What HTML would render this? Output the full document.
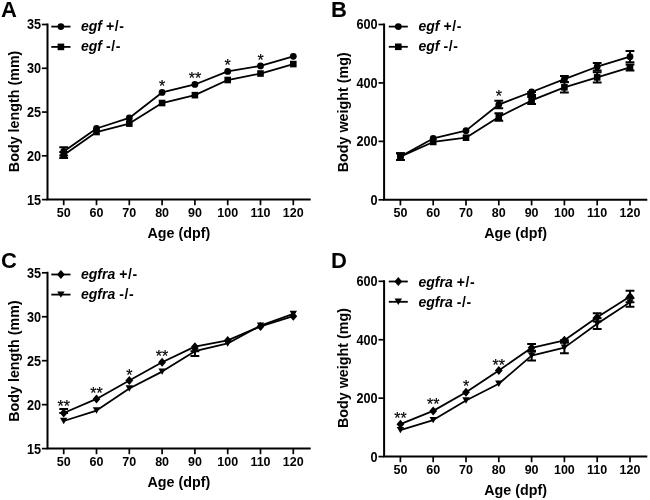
<!DOCTYPE html>
<html><head><meta charset="utf-8"><style>
html,body{margin:0;padding:0;background:#fff;width:650px;height:500px;overflow:hidden}
svg{display:block;will-change:transform}
text{font-family:"Liberation Sans", sans-serif;fill:#000}
</style></head><body>
<svg width="650" height="500" viewBox="0 0 650 500">
<rect width="650" height="500" fill="#fff"/>
<text x="1" y="16.8" font-size="22" font-weight="bold">A</text>
<path d="M47.5 23.5V199.6H310.7" fill="none" stroke="#000" stroke-width="2"/>
<path d="M41.9 199.6H47.5" stroke="#000" stroke-width="1.7"/>
<text transform="translate(41 204.5) scale(0.92 1)" font-size="13.8" font-weight="bold" text-anchor="end">15</text>
<path d="M41.9 155.82H47.5" stroke="#000" stroke-width="1.7"/>
<text transform="translate(41 160.72) scale(0.92 1)" font-size="13.8" font-weight="bold" text-anchor="end">20</text>
<path d="M41.9 112.05H47.5" stroke="#000" stroke-width="1.7"/>
<text transform="translate(41 116.95) scale(0.92 1)" font-size="13.8" font-weight="bold" text-anchor="end">25</text>
<path d="M41.9 68.28H47.5" stroke="#000" stroke-width="1.7"/>
<text transform="translate(41 73.18) scale(0.92 1)" font-size="13.8" font-weight="bold" text-anchor="end">30</text>
<path d="M41.9 24.5H47.5" stroke="#000" stroke-width="1.7"/>
<text transform="translate(41 29.4) scale(0.92 1)" font-size="13.8" font-weight="bold" text-anchor="end">35</text>
<path d="M63.7 199.6V205.2" stroke="#000" stroke-width="1.7"/>
<text x="63.7" y="216.95" font-size="12.5" font-weight="bold" text-anchor="middle">50</text>
<path d="M96.5 199.6V205.2" stroke="#000" stroke-width="1.7"/>
<text x="96.5" y="216.95" font-size="12.5" font-weight="bold" text-anchor="middle">60</text>
<path d="M129.3 199.6V205.2" stroke="#000" stroke-width="1.7"/>
<text x="129.3" y="216.95" font-size="12.5" font-weight="bold" text-anchor="middle">70</text>
<path d="M162.1 199.6V205.2" stroke="#000" stroke-width="1.7"/>
<text x="162.1" y="216.95" font-size="12.5" font-weight="bold" text-anchor="middle">80</text>
<path d="M194.9 199.6V205.2" stroke="#000" stroke-width="1.7"/>
<text x="194.9" y="216.95" font-size="12.5" font-weight="bold" text-anchor="middle">90</text>
<path d="M227.7 199.6V205.2" stroke="#000" stroke-width="1.7"/>
<text x="227.7" y="216.95" font-size="12.5" font-weight="bold" text-anchor="middle">100</text>
<path d="M260.5 199.6V205.2" stroke="#000" stroke-width="1.7"/>
<text x="260.5" y="216.95" font-size="12.5" font-weight="bold" text-anchor="middle">110</text>
<path d="M293.3 199.6V205.2" stroke="#000" stroke-width="1.7"/>
<text x="293.3" y="216.95" font-size="12.5" font-weight="bold" text-anchor="middle">120</text>
<text x="178.8" y="238" font-size="14.3" font-weight="bold" text-anchor="middle">Age (dpf)</text>
<text transform="translate(18.7 111.4) rotate(-90)" font-size="14.3" font-weight="bold" text-anchor="middle">Body length (mm)</text>
<polyline points="63.7,151.45 96.5,128.51 129.3,117.92 162.1,92.44 194.9,84.47 227.7,71.43 260.5,65.91 293.3,56.37" fill="none" stroke="#000" stroke-width="1.8" stroke-linejoin="round"/>
<path d="M63.7 147.33V155.56M59.3 147.33H68.1M59.3 155.56H68.1" stroke="#000" stroke-width="2" fill="none"/>
<circle cx="63.7" cy="151.45" r="3.4"/>
<circle cx="96.5" cy="128.51" r="3.4"/>
<circle cx="129.3" cy="117.92" r="3.4"/>
<circle cx="162.1" cy="92.44" r="3.4"/>
<circle cx="194.9" cy="84.47" r="3.4"/>
<circle cx="227.7" cy="71.43" r="3.4"/>
<circle cx="260.5" cy="65.91" r="3.4"/>
<circle cx="293.3" cy="56.37" r="3.4"/>
<polyline points="63.7,154.95 96.5,132.01 129.3,123.61 162.1,103.03 194.9,95.15 227.7,80.01 260.5,73.53 293.3,64.07" fill="none" stroke="#000" stroke-width="1.8" stroke-linejoin="round"/>
<path d="M63.7 151.89V158.01M59.3 151.89H68.1M59.3 158.01H68.1" stroke="#000" stroke-width="2" fill="none"/>
<rect x="60.4" y="151.65" width="6.6" height="6.6"/>
<rect x="93.2" y="128.71" width="6.6" height="6.6"/>
<rect x="126" y="120.31" width="6.6" height="6.6"/>
<rect x="158.8" y="99.73" width="6.6" height="6.6"/>
<rect x="191.6" y="91.85" width="6.6" height="6.6"/>
<rect x="224.4" y="76.71" width="6.6" height="6.6"/>
<rect x="257.2" y="70.23" width="6.6" height="6.6"/>
<rect x="290" y="60.77" width="6.6" height="6.6"/>
<text x="162.1" y="91.93" font-size="16" text-anchor="middle" stroke="#000" stroke-width="0.2">*</text>
<text x="194.9" y="84.13" font-size="16" text-anchor="middle" stroke="#000" stroke-width="0.2">**</text>
<text x="227.7" y="70.53" font-size="16" text-anchor="middle" stroke="#000" stroke-width="0.2">*</text>
<text x="260.5" y="66.43" font-size="16" text-anchor="middle" stroke="#000" stroke-width="0.2">*</text>
<path d="M51.3 26.6H70.5" stroke="#000" stroke-width="1.8"/>
<circle cx="60.9" cy="26.6" r="3.4"/>
<text x="81" y="31.1" font-size="14" font-weight="bold"><tspan font-style="italic">egf</tspan> <tspan letter-spacing="0.6">+/-</tspan></text>
<path d="M51.3 46.9H70.5" stroke="#000" stroke-width="1.8"/>
<rect x="57.6" y="43.6" width="6.6" height="6.6"/>
<text x="81" y="51.4" font-size="14" font-weight="bold"><tspan font-style="italic">egf</tspan> <tspan letter-spacing="0.6">-/-</tspan></text>
<text x="331" y="16.8" font-size="22" font-weight="bold">B</text>
<path d="M384.1 23.5V199.8H647.3" fill="none" stroke="#000" stroke-width="2"/>
<path d="M378.5 199.8H384.1" stroke="#000" stroke-width="1.7"/>
<text transform="translate(377.6 204.7) scale(0.92 1)" font-size="13.8" font-weight="bold" text-anchor="end">0</text>
<path d="M378.5 141.37H384.1" stroke="#000" stroke-width="1.7"/>
<text transform="translate(377.6 146.27) scale(0.92 1)" font-size="13.8" font-weight="bold" text-anchor="end">200</text>
<path d="M378.5 82.93H384.1" stroke="#000" stroke-width="1.7"/>
<text transform="translate(377.6 87.83) scale(0.92 1)" font-size="13.8" font-weight="bold" text-anchor="end">400</text>
<path d="M378.5 24.5H384.1" stroke="#000" stroke-width="1.7"/>
<text transform="translate(377.6 29.4) scale(0.92 1)" font-size="13.8" font-weight="bold" text-anchor="end">600</text>
<path d="M400.4 199.8V205.4" stroke="#000" stroke-width="1.7"/>
<text x="400.4" y="217.15" font-size="12.5" font-weight="bold" text-anchor="middle">50</text>
<path d="M433.2 199.8V205.4" stroke="#000" stroke-width="1.7"/>
<text x="433.2" y="217.15" font-size="12.5" font-weight="bold" text-anchor="middle">60</text>
<path d="M466 199.8V205.4" stroke="#000" stroke-width="1.7"/>
<text x="466" y="217.15" font-size="12.5" font-weight="bold" text-anchor="middle">70</text>
<path d="M498.8 199.8V205.4" stroke="#000" stroke-width="1.7"/>
<text x="498.8" y="217.15" font-size="12.5" font-weight="bold" text-anchor="middle">80</text>
<path d="M531.6 199.8V205.4" stroke="#000" stroke-width="1.7"/>
<text x="531.6" y="217.15" font-size="12.5" font-weight="bold" text-anchor="middle">90</text>
<path d="M564.4 199.8V205.4" stroke="#000" stroke-width="1.7"/>
<text x="564.4" y="217.15" font-size="12.5" font-weight="bold" text-anchor="middle">100</text>
<path d="M597.2 199.8V205.4" stroke="#000" stroke-width="1.7"/>
<text x="597.2" y="217.15" font-size="12.5" font-weight="bold" text-anchor="middle">110</text>
<path d="M630 199.8V205.4" stroke="#000" stroke-width="1.7"/>
<text x="630" y="217.15" font-size="12.5" font-weight="bold" text-anchor="middle">120</text>
<text x="515.6" y="238" font-size="14.3" font-weight="bold" text-anchor="middle">Age (dpf)</text>
<text transform="translate(348 112.3) rotate(-90)" font-size="14.3" font-weight="bold" text-anchor="middle">Body weight (mg)</text>
<polyline points="400.4,156.56 433.2,138.44 466,130.67 498.8,104.55 531.6,91.99 564.4,79.14 597.2,66.72 630,56.64" fill="none" stroke="#000" stroke-width="1.8" stroke-linejoin="round"/>
<path d="M400.4 153.2V159.92M396 153.2H404.8M396 159.92H404.8" stroke="#000" stroke-width="2" fill="none"/>
<path d="M498.8 100.76V108.35M494.4 100.76H503.2M494.4 108.35H503.2" stroke="#000" stroke-width="2" fill="none"/>
<path d="M531.6 91.99V94.91M527.2 91.99H536M527.2 94.91H536" stroke="#000" stroke-width="2" fill="none"/>
<path d="M564.4 75.92V82.35M560 75.92H568.8M560 82.35H568.8" stroke="#000" stroke-width="2" fill="none"/>
<path d="M597.2 62.92V70.52M592.8 62.92H601.6M592.8 70.52H601.6" stroke="#000" stroke-width="2" fill="none"/>
<path d="M630 50.94V62.34M625.6 50.94H634.4M625.6 62.34H634.4" stroke="#000" stroke-width="2" fill="none"/>
<circle cx="400.4" cy="156.56" r="3.4"/>
<circle cx="433.2" cy="138.44" r="3.4"/>
<circle cx="466" cy="130.67" r="3.4"/>
<circle cx="498.8" cy="104.55" r="3.4"/>
<circle cx="531.6" cy="91.99" r="3.4"/>
<circle cx="564.4" cy="79.14" r="3.4"/>
<circle cx="597.2" cy="66.72" r="3.4"/>
<circle cx="630" cy="56.64" r="3.4"/>
<polyline points="400.4,156.56 433.2,141.95 466,137.69 498.8,116.97 531.6,100.46 564.4,87.32 597.2,77.38 630,67.45" fill="none" stroke="#000" stroke-width="1.8" stroke-linejoin="round"/>
<path d="M400.4 153.2V159.92M396 153.2H404.8M396 159.92H404.8" stroke="#000" stroke-width="2" fill="none"/>
<path d="M498.8 113.17V120.77M494.4 113.17H503.2M494.4 120.77H503.2" stroke="#000" stroke-width="2" fill="none"/>
<path d="M531.6 96.96V103.97M527.2 96.96H536M527.2 103.97H536" stroke="#000" stroke-width="2" fill="none"/>
<path d="M564.4 82.06V92.57M560 82.06H568.8M560 92.57H568.8" stroke="#000" stroke-width="2" fill="none"/>
<path d="M597.2 72.27V82.5M592.8 72.27H601.6M592.8 82.5H601.6" stroke="#000" stroke-width="2" fill="none"/>
<path d="M630 64.38V70.52M625.6 64.38H634.4M625.6 70.52H634.4" stroke="#000" stroke-width="2" fill="none"/>
<rect x="397.1" y="153.26" width="6.6" height="6.6"/>
<rect x="429.9" y="138.65" width="6.6" height="6.6"/>
<rect x="462.7" y="134.39" width="6.6" height="6.6"/>
<rect x="495.5" y="113.67" width="6.6" height="6.6"/>
<rect x="528.3" y="97.16" width="6.6" height="6.6"/>
<rect x="561.1" y="84.02" width="6.6" height="6.6"/>
<rect x="593.9" y="74.08" width="6.6" height="6.6"/>
<rect x="626.7" y="64.15" width="6.6" height="6.6"/>
<text x="498.8" y="102.13" font-size="16" text-anchor="middle" stroke="#000" stroke-width="0.2">*</text>
<path d="M388.8 26.6H407.8" stroke="#000" stroke-width="1.8"/>
<circle cx="398.3" cy="26.6" r="3.4"/>
<text x="418.5" y="31.1" font-size="14" font-weight="bold"><tspan font-style="italic">egf</tspan> <tspan letter-spacing="0.6">+/-</tspan></text>
<path d="M388.8 46.8H407.8" stroke="#000" stroke-width="1.8"/>
<rect x="395" y="43.5" width="6.6" height="6.6"/>
<text x="418.5" y="51.3" font-size="14" font-weight="bold"><tspan font-style="italic">egf</tspan> <tspan letter-spacing="0.6">-/-</tspan></text>
<text x="1" y="267.5" font-size="22" font-weight="bold">C</text>
<path d="M47.5 271.8V448.6H310.7" fill="none" stroke="#000" stroke-width="2"/>
<path d="M41.9 448.6H47.5" stroke="#000" stroke-width="1.7"/>
<text transform="translate(41 453.5) scale(0.92 1)" font-size="13.8" font-weight="bold" text-anchor="end">15</text>
<path d="M41.9 404.65H47.5" stroke="#000" stroke-width="1.7"/>
<text transform="translate(41 409.55) scale(0.92 1)" font-size="13.8" font-weight="bold" text-anchor="end">20</text>
<path d="M41.9 360.7H47.5" stroke="#000" stroke-width="1.7"/>
<text transform="translate(41 365.6) scale(0.92 1)" font-size="13.8" font-weight="bold" text-anchor="end">25</text>
<path d="M41.9 316.75H47.5" stroke="#000" stroke-width="1.7"/>
<text transform="translate(41 321.65) scale(0.92 1)" font-size="13.8" font-weight="bold" text-anchor="end">30</text>
<path d="M41.9 272.8H47.5" stroke="#000" stroke-width="1.7"/>
<text transform="translate(41 277.7) scale(0.92 1)" font-size="13.8" font-weight="bold" text-anchor="end">35</text>
<path d="M63.7 448.6V454.2" stroke="#000" stroke-width="1.7"/>
<text x="63.7" y="465.95" font-size="12.5" font-weight="bold" text-anchor="middle">50</text>
<path d="M96.5 448.6V454.2" stroke="#000" stroke-width="1.7"/>
<text x="96.5" y="465.95" font-size="12.5" font-weight="bold" text-anchor="middle">60</text>
<path d="M129.3 448.6V454.2" stroke="#000" stroke-width="1.7"/>
<text x="129.3" y="465.95" font-size="12.5" font-weight="bold" text-anchor="middle">70</text>
<path d="M162.1 448.6V454.2" stroke="#000" stroke-width="1.7"/>
<text x="162.1" y="465.95" font-size="12.5" font-weight="bold" text-anchor="middle">80</text>
<path d="M194.9 448.6V454.2" stroke="#000" stroke-width="1.7"/>
<text x="194.9" y="465.95" font-size="12.5" font-weight="bold" text-anchor="middle">90</text>
<path d="M227.7 448.6V454.2" stroke="#000" stroke-width="1.7"/>
<text x="227.7" y="465.95" font-size="12.5" font-weight="bold" text-anchor="middle">100</text>
<path d="M260.5 448.6V454.2" stroke="#000" stroke-width="1.7"/>
<text x="260.5" y="465.95" font-size="12.5" font-weight="bold" text-anchor="middle">110</text>
<path d="M293.3 448.6V454.2" stroke="#000" stroke-width="1.7"/>
<text x="293.3" y="465.95" font-size="12.5" font-weight="bold" text-anchor="middle">120</text>
<text x="178.8" y="487" font-size="14.3" font-weight="bold" text-anchor="middle">Age (dpf)</text>
<text transform="translate(18.7 361) rotate(-90)" font-size="14.3" font-weight="bold" text-anchor="middle">Body length (mm)</text>
<polyline points="63.7,413 96.5,398.94 129.3,380.57 162.1,362.19 194.9,346.64 227.7,340.4 260.5,326.42 293.3,316.22" fill="none" stroke="#000" stroke-width="1.8" stroke-linejoin="round"/>
<path d="M63.7 409.04V413M59.3 409.04H68.1M59.3 413H68.1" stroke="#000" stroke-width="2" fill="none"/>
<path d="M63.7 408.5L67.6 413L63.7 417.5L59.8 413Z"/>
<path d="M96.5 394.44L100.4 398.94L96.5 403.44L92.6 398.94Z"/>
<path d="M129.3 376.07L133.2 380.57L129.3 385.07L125.4 380.57Z"/>
<path d="M162.1 357.69L166 362.19L162.1 366.69L158.2 362.19Z"/>
<path d="M194.9 342.14L198.8 346.64L194.9 351.14L191 346.64Z"/>
<path d="M227.7 335.9L231.6 340.4L227.7 344.9L223.8 340.4Z"/>
<path d="M260.5 321.92L264.4 326.42L260.5 330.92L256.6 326.42Z"/>
<path d="M293.3 311.72L297.2 316.22L293.3 320.72L289.4 316.22Z"/>
<polyline points="63.7,421 96.5,410.54 129.3,388.48 162.1,371.6 194.9,351.21 227.7,343.47 260.5,325.63 293.3,313.85" fill="none" stroke="#000" stroke-width="1.8" stroke-linejoin="round"/>
<path d="M194.9 351.21V356.04M190.5 351.21H199.3M190.5 356.04H199.3" stroke="#000" stroke-width="2" fill="none"/>
<path d="M60 417.8L67.4 417.8L63.7 424.2Z"/>
<path d="M92.8 407.34L100.2 407.34L96.5 413.74Z"/>
<path d="M125.6 385.28L133 385.28L129.3 391.68Z"/>
<path d="M158.4 368.4L165.8 368.4L162.1 374.8Z"/>
<path d="M191.2 348.01L198.6 348.01L194.9 354.41Z"/>
<path d="M224 340.27L231.4 340.27L227.7 346.67Z"/>
<path d="M256.8 322.43L264.2 322.43L260.5 328.83Z"/>
<path d="M289.6 310.65L297 310.65L293.3 317.05Z"/>
<text x="63.7" y="411.93" font-size="16" text-anchor="middle" stroke="#000" stroke-width="0.2">**</text>
<text x="96.5" y="398.93" font-size="16" text-anchor="middle" stroke="#000" stroke-width="0.2">**</text>
<text x="129.3" y="380.93" font-size="16" text-anchor="middle" stroke="#000" stroke-width="0.2">*</text>
<text x="162.1" y="362.33" font-size="16" text-anchor="middle" stroke="#000" stroke-width="0.2">**</text>
<path d="M51.3 274.5H70.5" stroke="#000" stroke-width="1.8"/>
<path d="M60.9 270L64.8 274.5L60.9 279L57 274.5Z"/>
<text x="81" y="278.9" font-size="14" font-weight="bold"><tspan font-style="italic">egfra</tspan> <tspan letter-spacing="0.6">+/-</tspan></text>
<path d="M51.3 294.6H70.5" stroke="#000" stroke-width="1.8"/>
<path d="M57.2 291.4L64.6 291.4L60.9 297.8Z"/>
<text x="81" y="299" font-size="14" font-weight="bold"><tspan font-style="italic">egfra</tspan> <tspan letter-spacing="0.6">-/-</tspan></text>
<text x="331" y="267.5" font-size="22" font-weight="bold">D</text>
<path d="M384.1 280.3V456.6H647.3" fill="none" stroke="#000" stroke-width="2"/>
<path d="M378.5 456.6H384.1" stroke="#000" stroke-width="1.7"/>
<text transform="translate(377.6 461.5) scale(0.92 1)" font-size="13.8" font-weight="bold" text-anchor="end">0</text>
<path d="M378.5 398.17H384.1" stroke="#000" stroke-width="1.7"/>
<text transform="translate(377.6 403.07) scale(0.92 1)" font-size="13.8" font-weight="bold" text-anchor="end">200</text>
<path d="M378.5 339.73H384.1" stroke="#000" stroke-width="1.7"/>
<text transform="translate(377.6 344.63) scale(0.92 1)" font-size="13.8" font-weight="bold" text-anchor="end">400</text>
<path d="M378.5 281.3H384.1" stroke="#000" stroke-width="1.7"/>
<text transform="translate(377.6 286.2) scale(0.92 1)" font-size="13.8" font-weight="bold" text-anchor="end">600</text>
<path d="M400.4 456.6V462.2" stroke="#000" stroke-width="1.7"/>
<text x="400.4" y="473.95" font-size="12.5" font-weight="bold" text-anchor="middle">50</text>
<path d="M433.2 456.6V462.2" stroke="#000" stroke-width="1.7"/>
<text x="433.2" y="473.95" font-size="12.5" font-weight="bold" text-anchor="middle">60</text>
<path d="M466 456.6V462.2" stroke="#000" stroke-width="1.7"/>
<text x="466" y="473.95" font-size="12.5" font-weight="bold" text-anchor="middle">70</text>
<path d="M498.8 456.6V462.2" stroke="#000" stroke-width="1.7"/>
<text x="498.8" y="473.95" font-size="12.5" font-weight="bold" text-anchor="middle">80</text>
<path d="M531.6 456.6V462.2" stroke="#000" stroke-width="1.7"/>
<text x="531.6" y="473.95" font-size="12.5" font-weight="bold" text-anchor="middle">90</text>
<path d="M564.4 456.6V462.2" stroke="#000" stroke-width="1.7"/>
<text x="564.4" y="473.95" font-size="12.5" font-weight="bold" text-anchor="middle">100</text>
<path d="M597.2 456.6V462.2" stroke="#000" stroke-width="1.7"/>
<text x="597.2" y="473.95" font-size="12.5" font-weight="bold" text-anchor="middle">110</text>
<path d="M630 456.6V462.2" stroke="#000" stroke-width="1.7"/>
<text x="630" y="473.95" font-size="12.5" font-weight="bold" text-anchor="middle">120</text>
<text x="515.6" y="494.5" font-size="14.3" font-weight="bold" text-anchor="middle">Age (dpf)</text>
<text transform="translate(348 368) rotate(-90)" font-size="14.3" font-weight="bold" text-anchor="middle">Body weight (mg)</text>
<polyline points="400.4,424.17 433.2,410.88 466,392.18 498.8,370.56 531.6,347.77 564.4,340.32 597.2,317.32 630,296.49" fill="none" stroke="#000" stroke-width="1.8" stroke-linejoin="round"/>
<path d="M531.6 344.06V351.48M527.2 344.06H536M527.2 351.48H536" stroke="#000" stroke-width="2" fill="none"/>
<path d="M564.4 340.32V342.66M560 340.32H568.8M560 342.66H568.8" stroke="#000" stroke-width="2" fill="none"/>
<path d="M597.2 313.23V321.41M592.8 313.23H601.6M592.8 321.41H601.6" stroke="#000" stroke-width="2" fill="none"/>
<path d="M630 290.65V302.34M625.6 290.65H634.4M625.6 302.34H634.4" stroke="#000" stroke-width="2" fill="none"/>
<path d="M400.4 419.67L404.3 424.17L400.4 428.67L396.5 424.17Z"/>
<path d="M433.2 406.38L437.1 410.88L433.2 415.38L429.3 410.88Z"/>
<path d="M466 387.68L469.9 392.18L466 396.68L462.1 392.18Z"/>
<path d="M498.8 366.06L502.7 370.56L498.8 375.06L494.9 370.56Z"/>
<path d="M531.6 343.27L535.5 347.77L531.6 352.27L527.7 347.77Z"/>
<path d="M564.4 335.82L568.3 340.32L564.4 344.82L560.5 340.32Z"/>
<path d="M597.2 312.82L601.1 317.32L597.2 321.82L593.3 317.32Z"/>
<path d="M630 291.99L633.9 296.49L630 300.99L626.1 296.49Z"/>
<polyline points="400.4,430.16 433.2,420.08 466,400.5 498.8,383.7 531.6,355.66 564.4,347.62 597.2,323.66 630,302.34" fill="none" stroke="#000" stroke-width="1.8" stroke-linejoin="round"/>
<path d="M531.6 350.69V360.62M527.2 350.69H536M527.2 360.62H536" stroke="#000" stroke-width="2" fill="none"/>
<path d="M564.4 342.07V353.17M560 342.07H568.8M560 353.17H568.8" stroke="#000" stroke-width="2" fill="none"/>
<path d="M597.2 318.26V329.07M592.8 318.26H601.6M592.8 329.07H601.6" stroke="#000" stroke-width="2" fill="none"/>
<path d="M630 297.95V306.72M625.6 297.95H634.4M625.6 306.72H634.4" stroke="#000" stroke-width="2" fill="none"/>
<path d="M396.7 426.96L404.1 426.96L400.4 433.36Z"/>
<path d="M429.5 416.88L436.9 416.88L433.2 423.28Z"/>
<path d="M462.3 397.3L469.7 397.3L466 403.7Z"/>
<path d="M495.1 380.5L502.5 380.5L498.8 386.9Z"/>
<path d="M527.9 352.46L535.3 352.46L531.6 358.86Z"/>
<path d="M560.7 344.42L568.1 344.42L564.4 350.82Z"/>
<path d="M593.5 320.46L600.9 320.46L597.2 326.86Z"/>
<path d="M626.3 299.14L633.7 299.14L630 305.54Z"/>
<text x="400.4" y="423.73" font-size="16" text-anchor="middle" stroke="#000" stroke-width="0.2">**</text>
<text x="433.2" y="410.33" font-size="16" text-anchor="middle" stroke="#000" stroke-width="0.2">**</text>
<text x="466" y="392.23" font-size="16" text-anchor="middle" stroke="#000" stroke-width="0.2">*</text>
<text x="498.8" y="371.33" font-size="16" text-anchor="middle" stroke="#000" stroke-width="0.2">**</text>
<path d="M388.8 281.5H407.8" stroke="#000" stroke-width="1.8"/>
<path d="M398.3 277L402.2 281.5L398.3 286L394.4 281.5Z"/>
<text x="418.5" y="286.5" font-size="14" font-weight="bold"><tspan font-style="italic">egfra</tspan> <tspan letter-spacing="0.6">+/-</tspan></text>
<path d="M388.8 301.8H407.8" stroke="#000" stroke-width="1.8"/>
<path d="M394.6 298.6L402 298.6L398.3 305Z"/>
<text x="418.5" y="306.8" font-size="14" font-weight="bold"><tspan font-style="italic">egfra</tspan> <tspan letter-spacing="0.6">-/-</tspan></text>
</svg>
</body></html>
